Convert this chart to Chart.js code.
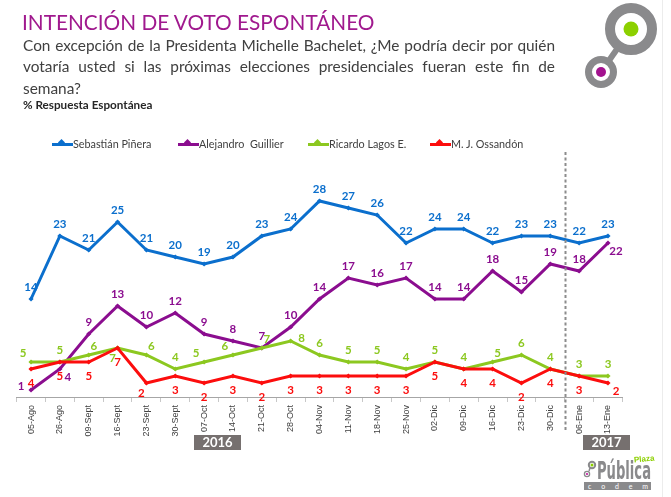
<!DOCTYPE html>
<html>
<head>
<meta charset="utf-8">
<script src="https://cdn.jsdelivr.net/npm/chart.js@4.4.1/dist/chart.umd.min.js"></script>
<style>
  html, body { margin:0; padding:0; background:#fff; }
  #wrap { position:relative; width:671px; height:497px; overflow:hidden; font-family: Lato, "Open Sans", sans-serif; }
  #c { position:absolute; left:0; top:0; }
  .abs { position:absolute; white-space:nowrap; }
  #title { left:22px; top:8px; font-size:20.8px; color:#a0198e; line-height:28px; }
  .sub { left:23px; width:532px; font-size:15.4px; color:#404040; line-height:20px; }
  .just { text-align:justify; text-align-last:justify; white-space:normal; }
  #resp { left:23px; top:97px; font-size:11.7px; font-weight:bold; color:#262626; }
  .leg { top:137px; font-size:10.8px; color:#404040; height:14px; line-height:14px; }
  .leg i { display:inline-block; width:21px; height:3px; vertical-align:middle; position:relative; margin-right:0px; top:-1px; }
  .leg i b { position:absolute; left:7px; top:-2.5px; width:5px; height:5px; transform:rotate(45deg); background:inherit; }
  .year { top:435px; width:47px; height:15px; background:#76706f; color:#fff; font-weight:bold; font-size:13px; line-height:15px; text-align:center; }
</style>
</head>
<body>
<div id="wrap">
  <canvas id="c" width="671" height="497"></canvas>
  <div id="title" class="abs">INTENCIÓN DE VOTO ESPONTÁNEO</div>
  <div class="abs sub just" style="top:35px;">Con excepción de la Presidenta Michelle Bachelet, ¿Me podría decir por quién</div>
  <div class="abs sub just" style="top:56px;">votaría usted si las próximas elecciones presidenciales fueran este fin de</div>
  <div class="abs sub" style="top:78px;">semana?</div>
  <div id="resp" class="abs">% Respuesta Espontánea</div>
  <div id="legend"></div>
  <div class="abs year" style="left:194px;">2016</div>
  <div class="abs year" style="left:583px;">2017</div>
  <div class="abs" style="left:662px; top:0; width:1px; height:497px; background:#ececec;"></div>
  <svg class="abs" style="left:0;top:0;" width="671" height="497">
    <line x1="601" y1="72" x2="631" y2="29" stroke="#8a8a8c" stroke-width="6"/>
    <circle cx="631" cy="29" r="21" fill="#fff" stroke="#8a8a8c" stroke-width="10"/>
    <circle cx="631" cy="29" r="7.5" fill="#8cd000"/>
    <circle cx="601" cy="72" r="12.5" fill="#fff" stroke="#8a8a8c" stroke-width="7"/>
    <circle cx="601" cy="72" r="5" fill="#a3128f"/>
    <!-- bottom logo -->
    <circle cx="592" cy="465" r="3.2" fill="#fff" stroke="#8a8a8c" stroke-width="2"/>
    <circle cx="592" cy="465" r="1.5" fill="#8cd000"/>
    <line x1="589" y1="471" x2="590" y2="468" stroke="#8a8a8c" stroke-width="1.5"/>
    <circle cx="587" cy="474" r="2.6" fill="#fff" stroke="#8a8a8c" stroke-width="1.3"/>
    <circle cx="587" cy="474" r="1.1" fill="#c0189e"/>
    <text x="597" y="479" font-family="'Liberation Sans Narrow','DejaVu Sans Condensed',sans-serif" font-weight="bold" font-size="25" fill="#8a8a8c" textLength="54" lengthAdjust="spacingAndGlyphs">Pública</text>
    <text x="634" y="462" font-family="'Liberation Sans Narrow',sans-serif" font-weight="bold" font-size="8" fill="#8cd000" transform="rotate(-6 640 460)">Plaza</text>
    <rect x="584" y="482" width="67" height="8" fill="#8a8a8c"/>
    <text x="588" y="489" font-family="Lato,sans-serif" font-size="7" fill="#fff" textLength="60" lengthAdjust="spacing">c o d e m</text>
  </svg>
</div>
<script>
// ---------------- DATA ----------------
const categories = ["05-Ago","26-Ago","09-Sept","16-Sept","23-Sept","30-Sept","07-Oct","14-Oct","21-Oct","28-Oct","04-Nov","11-Nov","18-Nov","25-Nov","02-Dic","09-Dic","16-Dic","23-Dic","30-Dic","06-Ene","13-Ene"];
const seriesNames = ["Sebastián Piñera","Alejandro  Guillier","Ricardo Lagos E.","M. J. Ossandón"];
const pinera   = [14,23,21,25,21,20,19,20,23,24,28,27,26,22,24,24,22,23,23,22,23];
const guillier = [1,4,9,13,10,12,9,8,7,10,14,17,16,17,14,14,18,15,19,18,22];
const lagos    = [5,5,6,7,6,4,5,6,7,8,6,5,5,4,5,4,5,6,4,3,3];
const ossandon = [4,5,5,7,2,3,2,3,2,3,3,3,3,3,5,4,4,2,4,3,2];
const yearLabels = ["2016","2017"];

// label placement codes (style only)
const posPinera   = Array(21).fill('t');
const posGuillier = ['l','br','t','t','t','t','t','t','t','t','t','t','t','t','t','t','t','t','t','t','br'];
const posLagos    = ['tl','t','tr','bl','tr','t','tl','tl','tr','r','t','t','t','t','t','t','tr','t','t','t','t'];
const posOssandon = ['b','b','b','b','bl','b','b','b','b','b','b','b','b','b','b','b','b','b','b','b','br'];

const colors = ['#0b6fcd','#8b0d8f','#8cc820','#fc0d0d'];
const OFF = { t:[0,-12], b:[0,14], l:[-10,-4], r:[11,-3], tr:[5,-9], tl:[-8,-9], br:[8,8], bl:[-5,10] };

// legend
const legend = document.getElementById('legend');
const legX = [52,178,308,430];
seriesNames.forEach((n,i)=>{
  const d = document.createElement('div');
  d.className = 'abs leg';
  d.style.left = legX[i]+'px';
  d.innerHTML = '<i style="background:'+colors[i]+'"><b></b></i>' + n.replace(/  /g,' &nbsp;');
  legend.appendChild(d);
});

const labelPlugin = {
  id:'valLabels',
  afterDatasetsDraw(chart){
    const ctx = chart.ctx;
    const posSets = [posPinera,posGuillier,posLagos,posOssandon];
    ctx.save();
    ctx.font = 'bold 11.5px Lato, sans-serif';
    ctx.textAlign = 'center';
    ctx.textBaseline = 'middle';
    chart.data.datasets.forEach((ds,di)=>{
      const meta = chart.getDatasetMeta(di);
      ctx.fillStyle = colors[di];
      meta.data.forEach((pt,i)=>{
        const o = OFF[posSets[di][i]];
        ctx.fillText(String(ds.data[i]), pt.x+o[0], pt.y+o[1]);
      });
    });
    ctx.restore();
  }
};
const dividerPlugin = {
  id:'divider',
  afterDraw(chart){
    const xs = chart.scales.x, ctx = chart.ctx;
    const x = Math.round((xs.getPixelForValue(18)+xs.getPixelForValue(19))/2)+0.5;
    ctx.save();
    ctx.strokeStyle = '#8c8c8c';
    ctx.lineWidth = 2;
    ctx.setLineDash([3,2.5]);
    ctx.beginPath();
    ctx.moveTo(x, chart.chartArea.top);
    ctx.lineTo(x, 432);
    ctx.stroke();
    ctx.restore();
  }
};

const mk = (label, data, ci, order) => ({
  label, data, order,
  borderColor: colors[ci], backgroundColor: colors[ci],
  borderWidth: 3, pointStyle:'rectRot', pointRadius:2.6, pointBorderWidth:0,
  tension:0, fill:false
});

new Chart(document.getElementById('c'), {
  type:'line',
  data:{
    labels: categories,
    datasets:[
      mk(seriesNames[0], pinera, 0, 3),
      mk(seriesNames[1], guillier, 1, 2),
      mk(seriesNames[2], lagos, 2, 1),
      mk(seriesNames[3], ossandon, 3, 0)
    ]
  },
  options:{
    responsive:false, animation:false,
    layout:{ padding:{ top:152, left:16.6, right:48.6, bottom:0 } },
    plugins:{ legend:{display:false}, tooltip:{enabled:false} },
    scales:{
      x:{
        offset:true,
        grid:{ offset:true, drawOnChartArea:false, tickLength:5, color:'#c8c8c8' },
        border:{ color:'#a6a6a6', width:1 },
        ticks:{ autoSkip:false, minRotation:90, maxRotation:90, padding:3, color:'#404040',
                font:{ family:'"Liberation Sans", Arial, sans-serif', size:9 } },
        afterFit(s){ s.height = 100; }
      },
      y:{ display:false, min:0, max:35 }
    }
  },
  plugins:[labelPlugin, dividerPlugin]
});
</script>
</body>
</html>
